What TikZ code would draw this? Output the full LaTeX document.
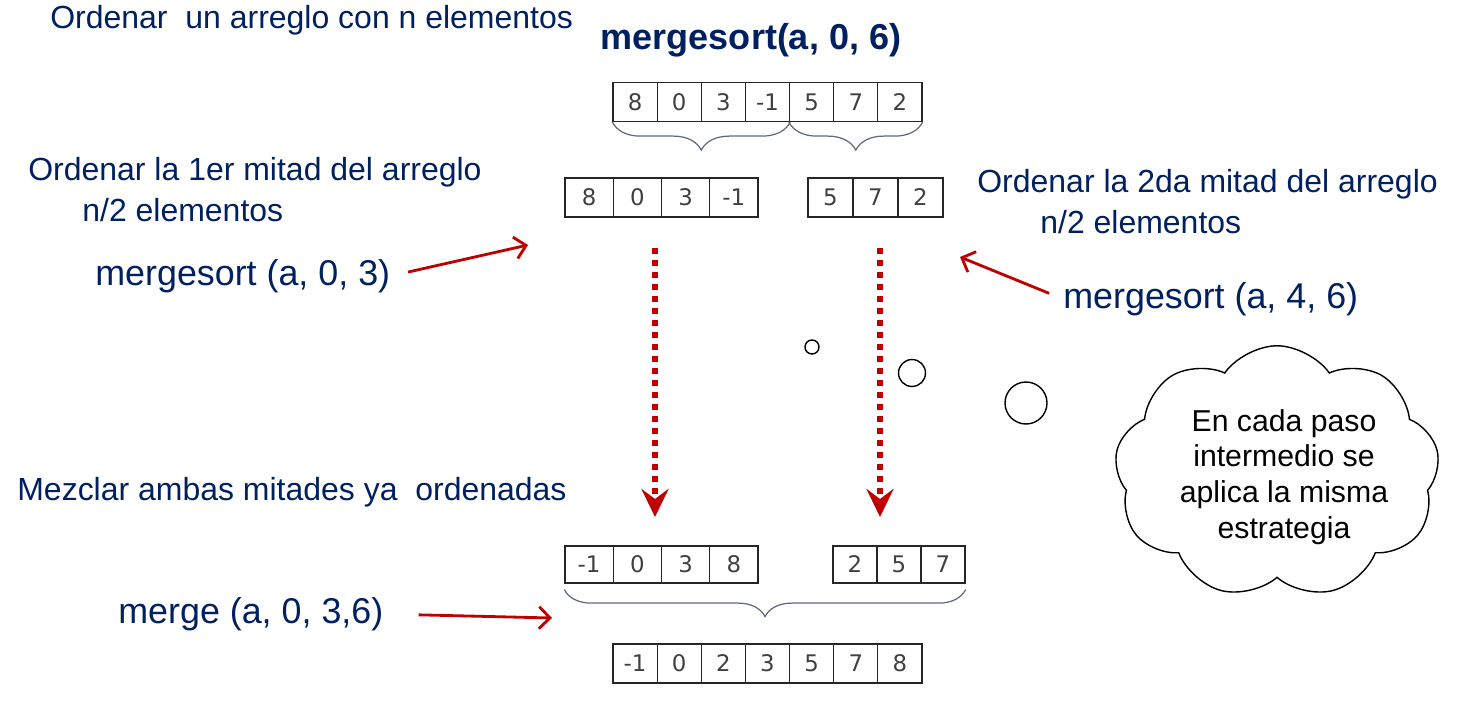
\documentclass[tikz,border=0pt]{standalone}
\usepackage{fontspec}
\setmainfont{Liberation Sans}
\newfontfamily\numfont{DejaVu Sans}
\usepackage{xcolor}
\usepackage{tikz}
\usetikzlibrary{shapes,arrows,positioning,calc,decorations.pathreplacing,arrows.meta}

\definecolor{azul}{RGB}{0,32,96}
\definecolor{rojo}{RGB}{192,0,0}
\definecolor{llavegris}{RGB}{95,105,125}

\tikzset{
  texto/.style={anchor=west, inner sep=0pt, text=azul, font=\fontsize{18.2}{21}\selectfont},
  llamada/.style={anchor=west, inner sep=0pt, text=azul, font=\fontsize{20.4}{24}\selectfont},
  celda/.style={draw=black!85, line width=0.7pt, minimum height=0.78cm, inner sep=0pt, text=black!75, font=\numfont\fontsize{13}{15}\selectfont},
  llave/.style={draw=llavegris, line width=0.7pt, decorate, decoration={brace, mirror, amplitude=0.56cm}},
  flecha/.style={draw=rojo, line width=1.6pt, -{Straight Barb[length=0.22cm,width=0.44cm]}},
  punteada/.style={draw=rojo, line width=0.12cm, dash pattern=on 0.12cm off 0.12cm, -{Stealth[length=0.56cm,width=0.54cm,inset=0.2cm]}},
  burbuja/.style={draw, line width=0.8pt}
}

\begin{document}
\begin{tikzpicture}[x=0.02cm, y=-0.02cm]
    \useasboundingbox (0,0) rectangle (1467,703);

    % Textos
    \node[texto] (enunciado) at (50,20) {Ordenar\ \ un arreglo con n elementos};
    \node[inner sep=0pt, text=azul, font=\bfseries\fontsize{20.5}{24}\selectfont] (titulo) at (751,40) {mergesort(a, 0, 6)};
    \node[texto] (mitad1) at (28,172) {Ordenar la 1er mitad del arreglo};
    \node[texto] (elem1) at (82,210) {n/2 elementos};
    \node[texto] (mitad2) at (977,184) {Ordenar la 2da mitad del arreglo};
    \node[texto] (elem2) at (1040,222) {n/2 elementos};
    \node[texto] (mezclar) at (17,492) {Mezclar ambas mitades ya\ \ ordenadas};

    % Arreglos
    \foreach \v [count=\i] in {8,0,3,-1,5,7,2}
        \node[celda, minimum width=0.883cm] (sup-\i) at ({613+44.14*(\i-0.5)},102) {\v};
    \foreach \v [count=\i] in {8,0,3,-1}
        \node[celda, minimum width=0.965cm] (izq-\i) at ({565+48.25*(\i-0.5)},197.5) {\v};
    \foreach \v [count=\i] in {5,7,2}
        \node[celda, minimum width=0.9cm] (der-\i) at ({808+45*(\i-0.5)},197.5) {\v};
    \foreach \v [count=\i] in {-1,0,3,8}
        \node[celda, minimum width=0.965cm, minimum height=0.74cm] (oizq-\i) at ({565+48.25*(\i-0.5)},564.5) {\v};
    \foreach \v [count=\i] in {2,5,7}
        \node[celda, minimum width=0.88cm, minimum height=0.74cm] (oder-\i) at ({833+44*(\i-0.5)},564.5) {\v};
    \foreach \v [count=\i] in {-1,0,2,3,5,7,8}
        \node[celda, minimum width=0.883cm] (fin-\i) at ({613+44.14*(\i-0.5)},663.5) {\v};

    % Llaves
    \draw[llave] (sup-1.south west) -- (sup-4.south east);
    \draw[llave] (sup-5.south west) -- (sup-7.south east);
    \draw[llave, decoration={raise=0.12cm, amplitude=0.54cm}] (oizq-1.south west) -- (oder-3.south east);

    % Flechas punteadas
    \coordinate (p1) at (655,248);
    \coordinate (q1) at (655,517);
    \coordinate (p2) at (880,248);
    \coordinate (q2) at (880,517);
    \draw[punteada] (p1) -- (q1);
    \draw[punteada] (p2) -- (q2);

    % Llamadas
    \node[llamada] (llam1) at (95,276) {mergesort (a, 0, 3)};
    \node[llamada] (llam2) at (1063,299) {mergesort (a, 4, 6)};
    \node[llamada] (llam3) at (118,614) {merge (a, 0, 3,6)};
    \coordinate (c1) at (528,245);
    \coordinate (c2) at (960,257);
    \coordinate (c3) at (552,618);
    \draw[flecha, shorten <=0.36cm] (llam1.east) -- (c1);
    \draw[flecha, shorten <=0.3cm] (llam2.west) -- (c2);
    \draw[flecha, shorten <=0.7cm] (llam3.east) -- (c3);

    % Nube
    \draw[burbuja] (812,347) circle[radius=0.14cm];
    \draw[burbuja] (912,373) circle[radius=0.27cm];
    \draw[burbuja] (1026,403) circle[radius=0.42cm];
    \node[cloud, draw, line width=0.8pt, cloud puffs=9, cloud puff arc=110, cloud ignores aspect, minimum width=6.5cm, minimum height=5.05cm] (nube) at (1277,472) {};
    \node[align=center, inner sep=0pt, font=\fontsize{17.2}{20.3}\selectfont] (idea) at (1284,477) {En cada paso\\intermedio se\\aplica la misma\\estrategia};
\end{tikzpicture}
\end{document}
